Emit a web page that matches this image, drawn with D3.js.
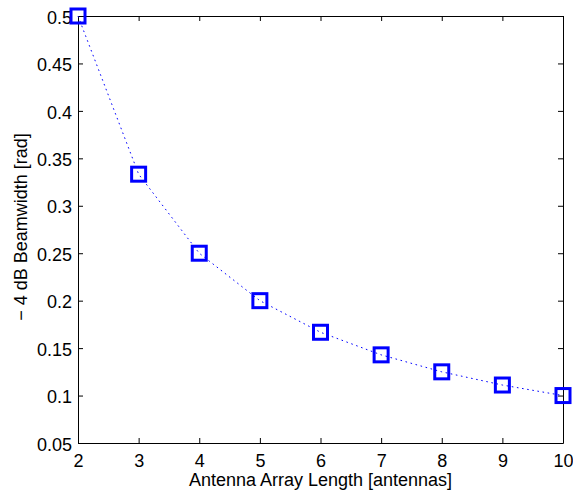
<!DOCTYPE html>
<html>
<head>
<meta charset="utf-8">
<script src="https://cdn.jsdelivr.net/npm/d3@7"></script>
<style>
  html, body { margin: 0; padding: 0; background: #fff; }
  svg { display: block; }
  text { font-family: "Liberation Sans", Arial, Helvetica, sans-serif; fill: #000; }
</style>
</head>
<body>
<svg id="chart" width="573" height="493"></svg>
<script>
// Array length (antennas) and the corresponding -4 dB beamwidth (rad)
const arrayLength = [2, 3, 4, 5, 6, 7, 8, 9, 10];
const beamwidth = [0.5, 0.3333, 0.25, 0.2, 0.1667, 0.1429, 0.125, 0.1111, 0.1];
const xTicks = [2, 3, 4, 5, 6, 7, 8, 9, 10];
const yTicks = [0.05, 0.1, 0.15, 0.2, 0.25, 0.3, 0.35, 0.4, 0.45, 0.5];

const svg = d3.select("#chart");
const plotL = 78, plotR = 563, plotT = 16, plotB = 443;
const fontPx = 18;

const x = d3.scaleLinear().domain([2, 10]).range([plotL, plotR]);
const y = d3.scaleLinear().domain([0.05, 0.5]).range([plotB, plotT]);

const fmt = d => String(d);
const tickLen = 5;

// Axes with inward ticks on all four sides (boxed axes)
const axes = [
  { axis: d3.axisBottom(x).tickValues(xTicks).tickFormat(fmt).tickPadding(11), t: `translate(0,${plotB})` },
  { axis: d3.axisTop(x).tickValues(xTicks).tickFormat(""), t: `translate(0,${plotT})` },
  { axis: d3.axisLeft(y).tickValues(yTicks).tickFormat(fmt).tickPadding(6), t: `translate(${plotL},0)`, left: true },
  { axis: d3.axisRight(y).tickValues(yTicks).tickFormat(""), t: `translate(${plotR},0)` }
];

axes.forEach(a => {
  const g = svg.append("g").attr("transform", a.t)
    .call(a.axis.tickSizeInner(-tickLen).tickSizeOuter(0));
  g.select(".domain").attr("stroke", "#000").attr("stroke-width", 1);
  g.selectAll(".tick line").attr("stroke", "#000").attr("stroke-width", 1);
  const txt = g.selectAll(".tick text").attr("font-size", fontPx)
    .attr("font-family", "'Liberation Sans', Arial, sans-serif");
  if (a.left) txt.attr("dy", "0.4em");
});

// Dotted connecting line
const line = d3.line().x((d, i) => x(arrayLength[i])).y(d => y(d));
svg.append("path")
  .datum(beamwidth)
  .attr("d", line)
  .attr("fill", "none")
  .attr("stroke", "#0000ff")
  .attr("stroke-width", 1)
  .attr("stroke-dasharray", "1.6,3.6");

// Square markers
const ms = 14;
svg.append("g").selectAll("rect")
  .data(beamwidth)
  .join("rect")
  .attr("x", (d, i) => x(arrayLength[i]) - ms / 2)
  .attr("y", d => y(d) - ms / 2)
  .attr("width", ms)
  .attr("height", ms)
  .attr("fill", "none")
  .attr("stroke", "#0000ff")
  .attr("stroke-width", 3);

// Axis titles
svg.append("text")
  .attr("x", (plotL + plotR) / 2)
  .attr("y", 486)
  .attr("text-anchor", "middle")
  .attr("font-size", fontPx)
  .text("Antenna Array Length [antennas]");

svg.append("text")
  .attr("transform", `translate(27,227) rotate(-90)`)
  .attr("text-anchor", "middle")
  .attr("font-size", fontPx)
  .text("\u2212 4 dB Beamwidth [rad]");
</script>
</body>
</html>
